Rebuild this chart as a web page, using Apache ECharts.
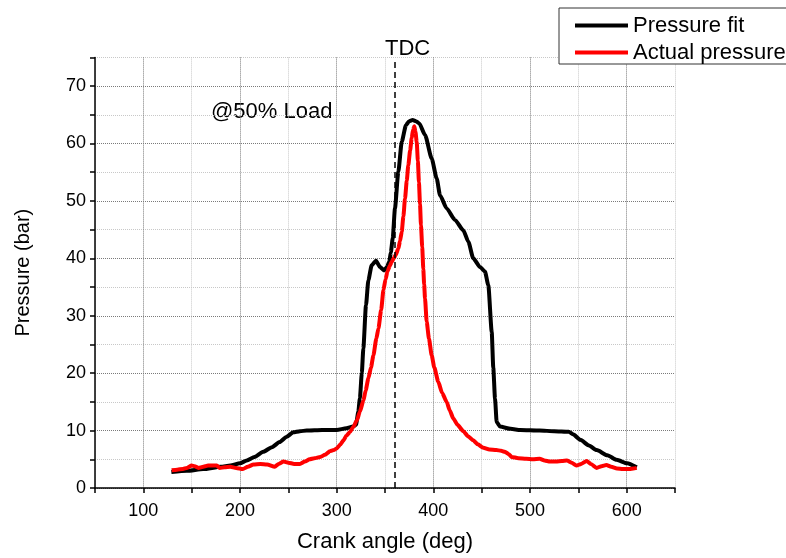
<!DOCTYPE html>
<html>
<head>
<meta charset="utf-8">
<script src="https://cdn.jsdelivr.net/npm/echarts@6/dist/echarts.min.js"></script>
<style>
html,body{margin:0;padding:0;background:#fff;}
#chart{width:786px;height:558px;}
</style>
</head>
<body>
<div id="chart"></div>
<script>
// ---- data ----
const fitAngle = [129,145,162,180,190,200,207,215,224,233,241,248,255,262,269,285,300,310,317,320,322.4,324,326,327.6,330.3,332.8,336.2,340.7,344.8,349,352,354.4,356,358,360.3,363.8,367.3,371.7,375,378.6,382,385.5,391.4,398.3,403.5,406.9,413.8,422.4,431,436.2,441.3,448.3,453.4,456.9,460.4,462,463.8,465.5,469,480,490,510,525,540,545,552,561,569,580,589.6,600.5,610.4];
const fitPressure = [2.8,3.0,3.3,3.7,3.9,4.3,4.8,5.4,6.3,7.1,8.0,8.9,9.7,9.9,10.0,10.1,10.1,10.4,10.7,11.0,13.3,15.6,20,24.3,31.8,36.2,38.8,39.6,38.5,37.9,38.5,39.4,41,43.5,48.7,55.1,60.3,63.2,63.9,64.1,63.9,63.5,61.5,57.4,53.9,51,48.7,46.7,44.9,42.9,40,38.5,37.7,35.3,27.2,21,15.6,11.5,10.7,10.3,10.1,10.0,9.9,9.8,9.3,8.4,7.4,6.6,5.7,4.9,4.3,3.6];

const actualAngle = [129.3,135,141,145,150,153,157,162,167,172,176,179,184,190,196,203,208,214,221,228,236,240,245,250,256,262,267,272,277,283,288,293,297,300,304,307,310,314,317,321,324,327.6,330,332.8,335.5,338,341,343.2,346,348.4,350.5,352.5,355,357,359,361,363.8,365.5,367.3,369,370.7,372.5,374.1,376,377.6,379,380.3,381.5,382.8,384,385.1,386.2,387.2,388.5,389.6,390.5,391.4,393.1,395.5,398.3,401,405.1,409,413.8,417,420.7,425,431,436,441.3,446,451.7,458,465,470,474,478,481,488,496,503,510,515,520.7,527,533,538,543,548,553,558.6,563,569,574,579,584,590,596,603,607,610.4];
const actualPressure = [3.1,3.2,3.3,3.5,3.9,3.8,3.5,3.7,3.9,3.9,3.9,3.5,3.6,3.7,3.5,3.3,3.7,4.1,4.2,4.1,3.7,4.2,4.6,4.4,4.2,4.2,4.6,5.0,5.2,5.4,5.8,6.4,6.6,6.9,7.6,8.3,9.1,9.8,10.6,11.8,13.3,15.2,17,19.1,21,23.1,26,27.8,31,34.5,36.3,37.7,38.7,39.4,40,40.6,41.7,43,44.6,47.3,50.4,53.5,56.2,58.8,60.9,62.4,63.0,62,60.3,57,53.3,49.5,45.8,42,38.2,35.5,33,29,26,23.1,21,18.5,16.6,15,13.5,12.1,11,9.9,9.0,8.3,7.6,7.0,6.7,6.6,6.5,6.3,5.9,5.4,5.2,5.1,5.0,5.1,4.8,4.6,4.6,4.7,4.8,4.4,3.9,4.2,4.7,4.2,3.5,3.8,4.0,3.7,3.4,3.3,3.3,3.4,3.5];

const seriesNames = ['Pressure fit', 'Actual pressure'];
const tdcAngle = 360;
const xTitle = 'Crank angle (deg)';
const yTitle = 'Pressure (bar)';

const zip = (a, b) => a.map((v, i) => [v, b[i]]);

const FONT = '"Liberation Sans", Arial, sans-serif';
const chart = echarts.init(document.getElementById('chart'), null, {renderer: 'canvas'});

chart.setOption({
  backgroundColor: '#ffffff',
  animation: false,
  textStyle: {fontFamily: FONT, color: '#000'},
  grid: {left: 95, right: 111, top: 57.4, bottom: 68.5, containLabel: false},
  legend: {
    orient: 'vertical',
    left: 559, top: 8,
    padding: [6, 40, 0, 16],
    itemGap: 4,
    itemWidth: 53, itemHeight: 4,
    icon: 'rect',
    borderColor: '#333', borderWidth: 1,
    backgroundColor: '#fff',
    textStyle: {fontFamily: FONT, fontSize: 22, color: '#000', lineHeight: 23},
    data: seriesNames
  },
  xAxis: {
    type: 'value', min: 50, max: 650, interval: 50,
    name: xTitle, nameLocation: 'middle', nameGap: 43,
    nameTextStyle: {fontFamily: FONT, fontSize: 22, color: '#000'},
    axisLine: {show: true, onZero: false, lineStyle: {color: '#000', width: 1.5}},
    axisTick: {show: true, inside: false, length: 5, lineStyle: {color: '#000', width: 1.5}},
    axisLabel: {fontFamily: FONT, fontSize: 18, color: '#000', margin: 14,
      formatter: v => (v % 100 === 0 ? String(v) : '')},
    splitLine: {show: true, lineStyle: {color: ['#c8c8c8', '#7a7a7a'], width: 1, type: [1, 1]}}
  },
  yAxis: {
    type: 'value', min: 0, max: 75, interval: 5,
    name: yTitle, nameLocation: 'middle', nameGap: 62,
    nameTextStyle: {fontFamily: FONT, fontSize: 20, color: '#000'},
    axisLine: {show: true, onZero: false, lineStyle: {color: '#000', width: 1.5}},
    axisTick: {show: true, inside: false, length: 5, lineStyle: {color: '#000', width: 1.5}},
    axisLabel: {fontFamily: FONT, fontSize: 18, color: '#000', margin: 9,
      formatter: v => (v % 10 === 0 ? String(v) : '')},
    splitLine: {show: true, lineStyle: {color: ['#7a7a7a', '#c8c8c8'], width: 1, type: [1, 1]}}
  },
  series: [
    {
      name: seriesNames[0], type: 'line',
      data: zip(fitAngle, fitPressure),
      showSymbol: false, symbol: 'none',
      smooth: 0.2, smoothMonotone: 'x',
      lineStyle: {color: '#000', width: 4},
      itemStyle: {color: '#000'},
      markLine: {
        silent: true, symbol: 'none',
        label: {show: false},
        lineStyle: {color: '#000', width: 1.5, type: [6, 4]},
        data: [[{coord: [tdcAngle, 0]}, {coord: [tdcAngle, 74.2]}]]
      },
      z: 2
    },
    {
      name: seriesNames[1], type: 'line',
      data: zip(actualAngle, actualPressure),
      showSymbol: false, symbol: 'none',
      smooth: 0.2, smoothMonotone: 'x',
      lineStyle: {color: '#ff0000', width: 4},
      itemStyle: {color: '#ff0000'},
      z: 3
    }
  ],
  graphic: [
    {type: 'text', left: 385, top: 38, style: {text: 'TDC', font: '22px ' + FONT, fill: '#000'}},
    {type: 'text', left: 211, top: 101, style: {text: '@50% Load', font: '22px ' + FONT, fill: '#000'}}
  ]
});
</script>
</body>
</html>
